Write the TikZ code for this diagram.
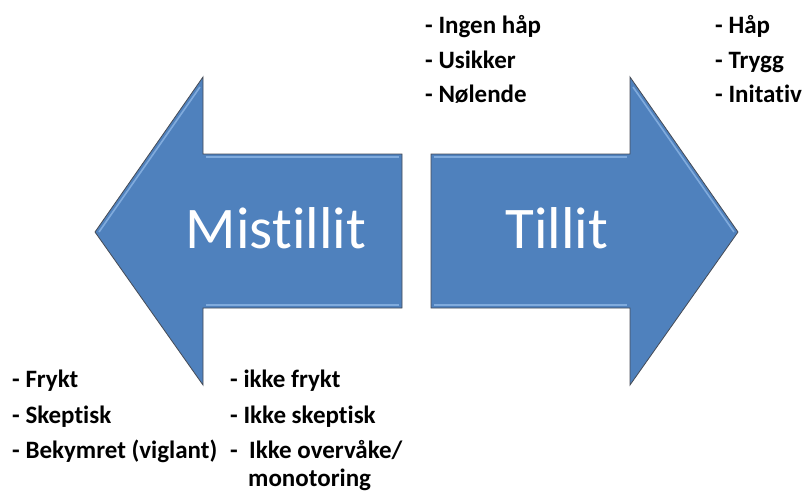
\documentclass[tikz,border=0pt]{standalone}
\usepackage{fontspec}
\setmainfont{Carlito}[Ligatures = {NoCommon, NoContextual}]
\usetikzlibrary{positioning}
\definecolor{ablue}{RGB}{79,129,189}
\definecolor{alight}{RGB}{150,190,235}
\definecolor{aedge}{RGB}{70,75,85}
\tikzset{arrowbody/.style = {fill = ablue, draw = aedge, line width = 0.8pt, line join = miter},
         bevel/.style = {draw = alight, line width = 1.6pt, opacity = 0.7},
         big/.style = {text = white, font = \fontsize{59}{60}\selectfont, inner sep = 0},
         lbl/.style = {font = \fontsize{25}{27}\selectfont\bfseries, inner sep = 0, anchor = base west}}

\begin{document}
\begin{tikzpicture}[x=1pt, y=-1pt]
      \useasboundingbox (0, 0) rectangle (806, 493);

      % venstre pil
      \draw [arrowbody] (95, 232) -- (203, 77) -- (203, 154) -- (402, 154) -- (402, 308)
            -- (203, 308) -- (203, 385) -- cycle;
      \draw [bevel] (206, 157) -- (399, 157);
      \draw [bevel] (206, 305) -- (399, 305);
      \draw [bevel] (99, 232) -- (200, 87);
      % høyre pil
      \draw [arrowbody] (738, 232) -- (630, 77) -- (630, 154) -- (431, 154) -- (431, 308)
            -- (630, 308) -- (630, 385) -- cycle;
      \draw [bevel] (434, 157) -- (627, 157);
      \draw [bevel] (434, 305) -- (627, 305);
      \draw [bevel] (633, 87) -- (734, 232);

      \node [big, anchor = base] (mistillit) at (276, 248) {Mistillit};
      \node [big, anchor = base] (tillit) at (557, 248) {Tillit};

      % oppe
      \node [lbl] (ingenhap) at (425, 33) {- Ingen håp};
      \node [lbl] (usikker) at (425, 68) {- Usikker};
      \node [lbl] (nolende) at (425, 102) {- Nølende};
      \node [lbl] (hap) at (715, 33) {- Håp};
      \node [lbl] (trygg) at (715, 68) {- Trygg};
      \node [lbl] (initativ) at (715, 102) {- Initativ};

      % nede
      \node [lbl] (frykt) at (12, 387) {- Frykt};
      \node [lbl] (skeptisk) at (12, 423) {- Skeptisk};
      \node [lbl] (bekymret) at (12, 458) {- Bekymret (viglant)};
      \node [lbl] (ikkefrykt) at (230, 387) {- ikke frykt};
      \node [lbl] (ikkeskeptisk) at (230, 423) {- Ikke skeptisk};
      \node [lbl] (overvake) at (230, 458) {-\ \ Ikke overvåke/};
      \node [lbl] (monotoring) at (248, 486) {monotoring};
    \end{tikzpicture}
\end{document}
